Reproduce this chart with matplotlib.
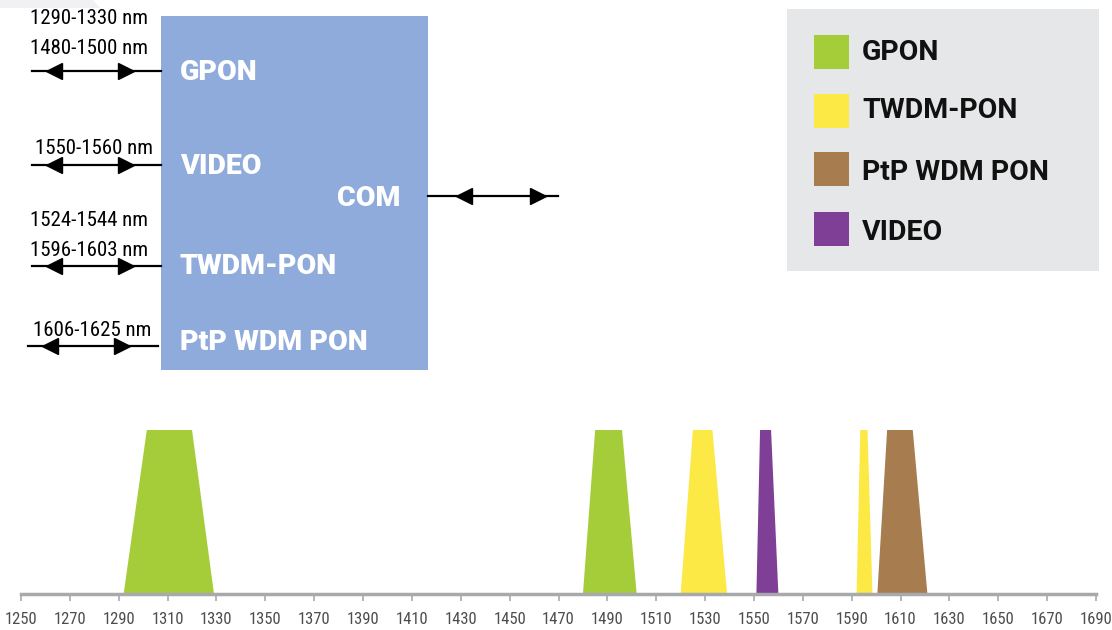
import matplotlib
matplotlib.use("Agg")
import matplotlib.pyplot as plt
from matplotlib.patches import Polygon, Rectangle

# spectrum bands (nm): base left, top left, top right, base right
band_names  = ["GPON", "GPON", "TWDM-PON", "VIDEO", "TWDM-PON", "PtP WDM PON"]
base_left   = [1292, 1480, 1520, 1551, 1592, 1600.5]
top_left    = [1301.5, 1485, 1525, 1552.5, 1593.5, 1604.5]
top_right   = [1320, 1496, 1533, 1557, 1596.5, 1615]
base_right  = [1329, 1502, 1539, 1560, 1598.5, 1621]

# legend / colours
legend_names = ["GPON", "TWDM-PON", "PtP WDM PON", "VIDEO"]
legend_colors = ["#A5CD39", "#FDE946", "#A77C4F", "#7F3F97"]
color_of = dict(zip(legend_names, legend_colors))

tick_values = list(range(1250, 1691, 20))

# diagram ports: label inside box, wavelength text
port_labels = ["GPON", "VIDEO", "TWDM-PON", "PtP WDM PON"]
port_ranges = [["1290-1330 nm", "1480-1500 nm"], ["1550-1560 nm"],
               ["1524-1544 nm", "1596-1603 nm"], ["1606-1625 nm"]]

W, H = 1112, 630
fig = plt.figure(figsize=(W / 100, H / 100), dpi=100)
fig.patch.set_facecolor("white")

narrow = ["Liberation Sans Narrow", "Roboto Condensed", "DejaVu Sans"]
boldf = ["Roboto", "DejaVu Sans"]

# ---- spectrum axes ----
ax = fig.add_axes([21 / W, (H - 594) / H, 1075 / W, 164 / H])
for name, bl, tl, tr, br in zip(band_names, base_left, top_left, top_right, base_right):
    ax.add_patch(Polygon([(bl, 0), (tl, 1), (tr, 1), (br, 0)], closed=True,
                         facecolor=color_of[name], edgecolor="none"))
ax.set_xlim(1250, 1690)
ax.set_ylim(0, 1)
for s in ["top", "right", "left"]:
    ax.spines[s].set_visible(False)
ax.spines["bottom"].set_color("#A7A9AC")
ax.spines["bottom"].set_linewidth(2.5)
ax.set_yticks([])
ax.set_xticks(tick_values)
ax.tick_params(axis="x", length=5, width=1.2, color="#A7A9AC", pad=8,
               labelcolor="#4D4D4D", labelsize=12)
for lab in ax.get_xticklabels():
    lab.set_family(narrow)
ax.patch.set_alpha(0)

# ---- diagram overlay in pixel coords ----
ov = fig.add_axes([0, 0, 1, 1])
ov.set_xlim(0, W)
ov.set_ylim(H, 0)
ov.axis("off")
ov.patch.set_alpha(0)

ov.add_patch(Polygon([(0, 0), (93, 0), (100, 8), (0, 8)], closed=True,
                     facecolor="#F1F1F3", edgecolor="none"))
ov.add_patch(Rectangle((161, 16), 267, 354, facecolor="#8FABDC", edgecolor="none"))

label_y = [72, 166, 266, 341]
arrow_y = [71, 165, 266, 346]
range_y = [[19, 49], [148], [220, 250], [330]]
range_x = [[30, 30], [35], [30, 30], [33]]
for lab, ly, ay, rngs, rys, rxs in zip(port_labels, label_y, arrow_y, port_ranges, range_y, range_x):
    ov.text(180, ly + 1, lab, color="white", fontsize=20.5, fontweight="black",
            family=boldf, va="center", ha="left")
    x0, x1 = (28, 158) if lab.startswith("PtP") else (32, 161)
    ov.plot([x0, x1], [ay, ay], color="black", lw=1.6)
    ov.plot([x0 + 22], [ay], marker="<", color="black", ms=11)
    ov.plot([x0 + 94], [ay], marker=">", color="black", ms=11)
    for t, ty, tx in zip(rngs, rys, rxs):
        ov.text(tx, ty, t, color="black", fontsize=15, family=narrow,
                va="center", ha="left")

ov.text(337, 198, "COM", color="white", fontsize=20.5, fontweight="black",
        family=boldf, va="center", ha="left")
ov.plot([428, 558], [196, 196], color="black", lw=1.6)
ov.plot([464], [196], marker="<", color="black", ms=11)
ov.plot([538], [196], marker=">", color="black", ms=11)

# ---- legend ----
ov.add_patch(Rectangle((787, 9), 312, 262, facecolor="#E6E7E8", edgecolor="none"))
leg_y = [52, 111, 169, 229]
text_y = [53, 111, 172, 232]
for name, col, yy, ty in zip(legend_names, legend_colors, leg_y, text_y):
    ov.add_patch(Rectangle((814, yy - 17), 35, 34, facecolor=col, edgecolor="none"))
    ov.text(862, ty, name, color="#111111", fontsize=20.5, fontweight="bold",
            family=boldf, va="center", ha="left")

fig.savefig("out.png", dpi=100, facecolor="white")
